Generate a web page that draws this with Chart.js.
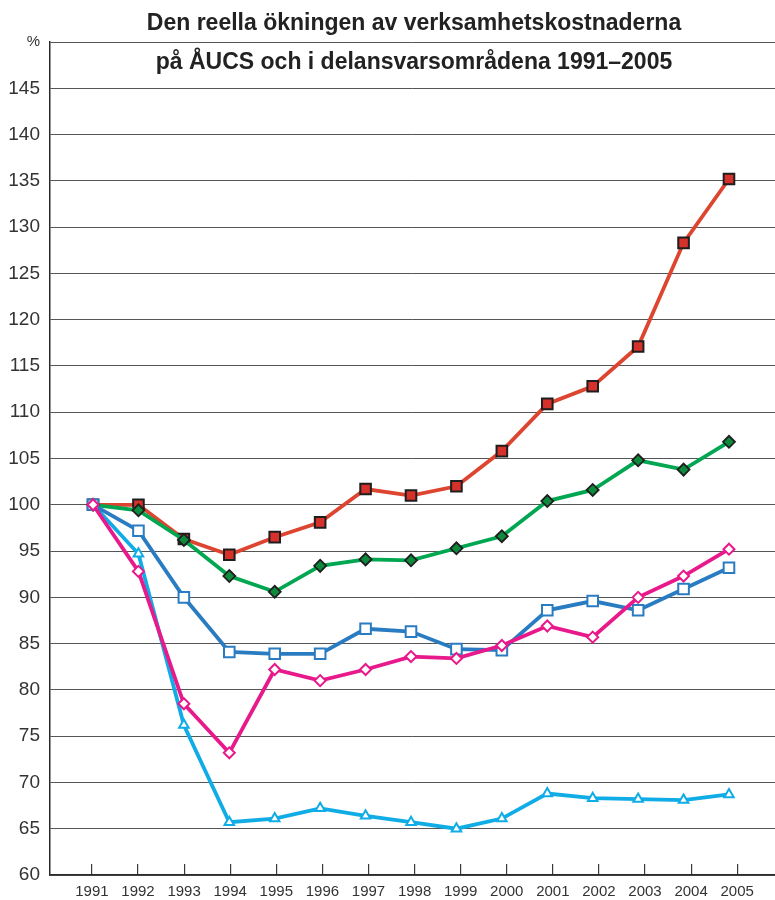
<!DOCTYPE html>
<html>
<head>
<meta charset="utf-8">
<script src="https://cdn.jsdelivr.net/npm/chart.js@4.4.1/dist/chart.umd.min.js"></script>
<style>
  html, body { margin: 0; padding: 0; background: #fff; }
  #wrap { position: relative; width: 775px; height: 900px; }
</style>
</head>
<body>
<div id="wrap"><canvas id="c" width="775" height="900"></canvas></div>
<script>
// Years on the horizontal axis
const years = [1991, 1992, 1993, 1994, 1995, 1996, 1997, 1998, 1999, 2000, 2001, 2002, 2003, 2004, 2005];

// Index, 1991 = 100
const seriesRed   = [100, 100, 96.3, 94.6, 96.5, 98.1, 101.7, 101.0, 102.0, 105.8, 110.9, 112.8, 117.1, 128.3, 135.2];
const seriesGreen = [100, 99.4, 96.2, 92.3, 90.6, 93.4, 94.1, 94.0, 95.3, 96.6, 100.4, 101.6, 104.8, 103.8, 106.8];
const seriesBlue  = [100, 97.2, 90.0, 84.1, 83.9, 83.9, 86.6, 86.3, 84.4, 84.3, 88.6, 89.6, 88.6, 90.9, 93.2];
const seriesPink  = [100, 92.8, 78.5, 73.2, 82.2, 81.0, 82.2, 83.6, 83.4, 84.8, 86.9, 85.7, 90.0, 92.3, 95.2];
const seriesCyan  = [100, 94.7, 76.2, 65.7, 66.1, 67.2, 66.4, 65.7, 65.0, 66.1, 68.8, 68.3, 68.2, 68.1, 68.7];

// Y axis: 60–150 in steps of 5; the top position carries the unit sign
const yMin = 60, yMax = 150, yStep = 5;
const yUnit = '%';

const titleLines = [
  'Den reella ökningen av verksamhetskostnaderna',
  'på ÅUCS och i delansvarsområdena 1991–2005'
];

const toPoints = (vals) => vals.map((v, i) => ({ x: years[i], y: v }));

function lineSet(vals, color, style, fill, border, radius, borderWidth) {
  return {
    data: toPoints(vals),
    xAxisID: 'x',
    borderColor: color,
    borderWidth: 3.8,
    tension: 0,
    pointStyle: style,
    pointRadius: radius,
    pointBackgroundColor: fill,
    pointBorderColor: border,
    pointBorderWidth: borderWidth,
    fill: false
  };
}

// Two-line heading drawn across the top of the plot
const headingPlugin = {
  id: 'heading',
  afterDraw(chart) {
    const ctx = chart.ctx;
    ctx.save();
    ctx.fillStyle = '#222';
    ctx.font = 'bold 23px "Liberation Sans", Arial, sans-serif';
    ctx.textAlign = 'center';
    ctx.textBaseline = 'middle';
    ctx.fillText(titleLines[0], 414, 24);
    ctx.fillText(titleLines[1], 414, 63);
    ctx.restore();
  }
};

new Chart(document.getElementById('c'), {
  type: 'line',
  data: {
    datasets: [
      lineSet(seriesPink,  '#e8198b', 'rectRot', '#ffffff', '#e8198b', 5.5, 2),
      lineSet(seriesBlue,  '#2a7cc2', 'rect',    '#ffffff', '#2a7cc2', 7.5, 2),
      lineSet(seriesCyan,  '#10ace6', 'triangle','#ffffff', '#10ace6', 5.5, 2),
      lineSet(seriesGreen, '#00a650', 'rectRot', '#0d8a3c', '#1e1e1e', 6, 1.8),
      lineSet(seriesRed,   '#dd4530', 'rect',    '#d6312a', '#1e1e1e', 7.5, 2)
    ]
  },
  options: {
    responsive: false,
    animation: false,
    events: [],
    layout: { autoPadding: false, padding: { top: 42, left: 0, right: 0, bottom: 0 } },
    plugins: {
      legend: { display: false },
      tooltip: { enabled: false },
      title: { display: false }
    },
    scales: {
      // positions the data points
      x: {
        type: 'linear',
        display: false,
        min: 1990.053,
        max: 2006.013
      },
      // draws the year ticks and labels
      x2: {
        type: 'linear',
        position: 'bottom',
        min: 1990.09,
        max: 2005.82,
        afterBuildTicks(scale) {
          scale.ticks = years.map(v => ({ value: v }));
        },
        afterFit(scale) {
          scale.height = 25;
          scale.paddingLeft = 0;
          scale.paddingRight = 0;
        },
        grid: {
          drawOnChartArea: false,
          drawTicks: true,
          tickLength: -11,
          color: '#3a3a3a',
          lineWidth: 1.2
        },
        border: { display: true, color: '#2a2a2a', width: 1.5 },
        ticks: {
          autoSkip: false,
          maxRotation: 0,
          padding: 19,
          color: '#333',
          font: { family: '"Liberation Sans", Arial, sans-serif', size: 15 },
          callback: (v) => String(v)
        }
      },
      y: {
        type: 'linear',
        min: yMin,
        max: yMax,
        afterFit(scale) {
          scale.width = 50;
        },
        grid: {
          drawTicks: false,
          color: '#555',
          lineWidth: 1
        },
        border: { display: true, color: '#2a2a2a', width: 1.5 },
        ticks: {
          stepSize: yStep,
          padding: 10,
          color: '#333',
          font: (ctx) => ({
            family: '"Liberation Sans", Arial, sans-serif',
            size: ctx.tick && ctx.tick.value === yMax ? 15 : 19
          }),
          callback: (v) => v === yMax ? yUnit : String(v)
        }
      }
    }
  },
  plugins: [headingPlugin]
});
</script>
</body>
</html>
